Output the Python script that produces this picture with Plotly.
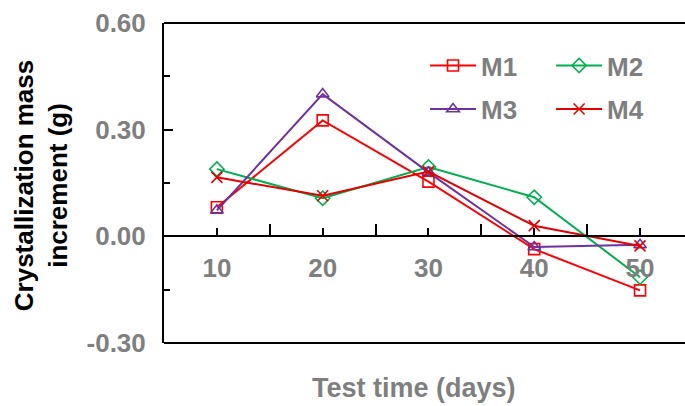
import plotly.graph_objects as go

days = [10, 20, 30, 40, 50]
tick_labels = ["10", "20", "30", "40", "50"]
m1 = [0.082, 0.326, 0.154, -0.036, -0.152]
m2 = [0.189, 0.107, 0.195, 0.110, -0.115]
m3 = [0.073, 0.400, 0.180, -0.030, -0.024]
m4 = [0.166, 0.114, 0.182, 0.030, -0.027]
series_names = ["M1", "M2", "M3", "M4"]
y_ticks = [-0.30, 0.00, 0.30, 0.60]

FONT = "Liberation Sans"
GRAY = "#7f7f7f"

styles = [
    dict(color="#FF0000", symbol="square-open", legend="legend"),
    dict(color="#00B050", symbol="diamond-open", legend="legend2"),
    dict(color="#7030A0", symbol="triangle-up-open", legend="legend3"),
    dict(color="#E60000", symbol="x-thin-open", legend="legend4"),
]

fig = go.Figure()
for name, vals, st in zip(series_names, [m1, m2, m3, m4], styles):
    fig.add_trace(go.Scatter(
        x=days, y=vals, mode="lines+markers", name=name,
        line=dict(color=st["color"], width=2),
        marker=dict(symbol=st["symbol"], size=11, color=st["color"],
                    line=dict(color=st["color"], width=1.6)),
        legend=st["legend"],
    ))

legend_common = dict(
    xanchor="left", yanchor="middle",
    font=dict(family=FONT, size=26, color=GRAY, weight="bold"),
    bgcolor="rgba(0,0,0,0)", borderwidth=0, itemwidth=46,
)

# legend grid positions (paper fractions of plot area)
col_x = [0.501, 0.743]
row_y = [0.867, 0.731]

fig.update_layout(
    width=685, height=406,
    margin=dict(l=164, r=0, t=23, b=63, autoexpand=False),
    paper_bgcolor="white", plot_bgcolor="white",
    showlegend=True,
    legend=dict(x=col_x[0], y=row_y[0], **legend_common),
    legend2=dict(x=col_x[1], y=row_y[0], **legend_common),
    legend3=dict(x=col_x[0], y=row_y[1], **legend_common),
    legend4=dict(x=col_x[1], y=row_y[1], **legend_common),
    xaxis=dict(
        range=[5, 54.25], tickmode="array", tickvals=days, ticktext=tick_labels,
        ticks="inside", ticklen=7, tickwidth=2, tickcolor="black",
        showline=True, linecolor="black", linewidth=2, automargin=False,
        anchor="free", position=1/3, showgrid=False, zeroline=False,
        tickfont=dict(family=FONT, size=26, color=GRAY, weight="bold"),
        ticklabelstandoff=8,
        minor=dict(tickmode="array", tickvals=[15, 25, 35, 45], ticks="inside",
                   ticklen=11, tickwidth=2, tickcolor="black", showgrid=False),
    ),
    yaxis=dict(
        range=[-0.3, 0.6], tickmode="array", tickvals=y_ticks,
        ticktext=[f"{v:.2f}" for v in y_ticks],
        ticks="inside", ticklen=9, tickwidth=2, tickcolor="black",
        showline=True, linecolor="black", linewidth=2, automargin=False,
        showgrid=False, zeroline=False,
        tickfont=dict(family=FONT, size=26, color=GRAY, weight="bold"),
        ticklabelstandoff=11,
        minor=dict(dtick=0.15, tick0=0, ticks="inside", ticklen=6, tickwidth=2,
                   tickcolor="black", showgrid=False),
    ),
    shapes=[
        dict(type="line", xref="paper", yref="paper", x0=0, x1=1, y0=1, y1=1,
             line=dict(color="black", width=2)),
        dict(type="line", xref="paper", yref="paper", x0=0, x1=1, y0=0, y1=0,
             line=dict(color="black", width=2)),
    ],
    annotations=[
        dict(text="Crystallization mass<br>increment (g)", textangle=-90,
             xref="paper", yref="paper", x=0, y=0.49, xanchor="center",
             yanchor="middle", xshift=-123, showarrow=False,
             font=dict(family=FONT, size=26, color="black", weight="bold")),
        dict(text="Test time (days)", xref="paper", yref="paper",
             x=0.479, y=0, xanchor="center", yanchor="middle", yshift=-45,
             showarrow=False,
             font=dict(family=FONT, size=27, color=GRAY, weight="bold")),
    ],
)

fig.write_html("out.html", config={"displayModeBar": False},
               post_script="document.body.style.margin='0';")
